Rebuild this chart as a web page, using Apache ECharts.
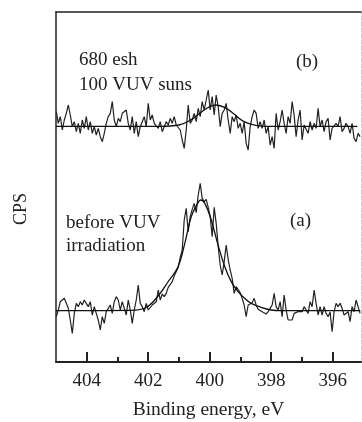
<!DOCTYPE html>
<html>
<head>
<meta charset="utf-8">
<script src="https://cdn.jsdelivr.net/npm/echarts@6/dist/echarts.min.js"></script>
<style>
  html, body { margin: 0; padding: 0; background: #fff; }
  #chart { width: 362px; height: 422px; }
</style>
</head>
<body>
<div id="chart"></div>
<script>
// spectra sampled every 0.065 eV starting at 404.99 eV (descending)
var E_START = 404.99;
var E_STEP = 0.065;

// (b) after 680 esh / 100 VUV suns
var spectrumB = [
  751,716,736,696,726,746,771,741,706,721, 691,716,686,726,701,736,696,721,686,706,
  681,701,676,661,686,716,736,746,781,726, 706,731,721,746,741,756,716,696,736,686,
  721,676,706,721,736,706,776,726,741,716, 711,701,
  721,691,706,721,711,731,716,736,711,716, 696,666,641,696,771,716,726,746,721,761,
  736,781,756,786,816,756,796,741,801,766, 706,746,756,776,726,686,736,721,741,701,
  716,686,721,656,636,706,736,756,746,701, 721,
  701,726,686,706,651,676,641,746,696,721, 756,716,686,736,716,781,741,676,726,756,
  666,711,716,686,721,696,716,701,761,706, 726,691,721,731,666,701,696,716,706,736,
  691,701,716,706,686,716,671,661,686,676
];

// (a) before VUV irradiation
var spectrumA = [
  136,156,181,186,191,176,161,126,86,146, 176,166,181,171,186,176,166,181,141,166,
  146,126,96,136,116,151,161,171,146,181, 196,186,156,181,176,141,186,156,116,156,
  186,231,176,166,151,176,156,161,171,166, 181,216,
  186,204,196,206,224,218,241,258,254,284, 314,336,426,461,391,436,458,476,448,501,
  536,491,481,488,464,436,376,464,416,346, 291,261,301,351,308,276,251,206,226,231,
  208,191,171,136,171,166,178,191,171,158, 164,
  151,148,144,151,161,171,206,166,156,181, 136,201,156,126,131,126,146,146,151,156,
  151,166,161,146,181,166,216,176,141,166, 141,166,146,136,150,91,151,176,166,176,
  161,141,141,151,121,166,151,186,191,146
];

// fitted curves (energy, CPS)
var fitB = [
  [405,707],[401.6,707],[401.0,711],[400.6,727],[400.3,748],[400.0,766],[399.8,771],
  [399.5,763],[399.2,743],[398.9,722],[398.5,710],[398.0,707],[395.2,707]
];
var fitA = [
  [405,154],[402.6,155],[402.1,162],[401.68,198],[401.36,240],[401.03,286],[400.81,356],
  [400.6,436],[400.38,478],[400.3,486],[400.16,476],[399.95,426],[399.73,351],[399.51,286],
  [399.3,241],[399.08,211],[398.86,191],[398.65,176],[398.33,164],[398.0,156],[397.7,154],[395.1,154]
];

var majorTicks = [396, 398, 400, 402, 404];
var minorTicks = [397, 399, 401, 403];

function toPairs(vals) {
  return vals.map(function (v, i) {
    return [+(E_START - i * E_STEP).toFixed(3), v];
  });
}

var FONT = '"Liberation Serif", "DejaVu Serif", serif';
var X_MIN = 395.08, X_MAX = 405;

var chart = echarts.init(document.getElementById('chart'));
var option = {
  animation: false,
  grid: { left: 56, top: 12, right: 1, bottom: 60, containLabel: false, outerBoundsMode: 'none' },
  xAxis: [{
    type: 'value', inverse: true, min: X_MIN, max: X_MAX,
    position: 'bottom',
    name: 'Binding energy, eV',
    nameLocation: 'middle',
    nameGap: 38,
    nameTextStyle: { fontFamily: FONT, fontSize: 19.5, color: '#222' },
    axisLine: { lineStyle: { color: '#222', width: 2 } },
    axisTick: { inside: true, length: 10, customValues: majorTicks, lineStyle: { color: '#222', width: 2 } },
    axisLabel: { customValues: majorTicks, margin: 10, fontFamily: FONT, fontSize: 19, color: '#222' },
    splitLine: { show: false }
  }, {
    type: 'value', inverse: true, min: X_MIN, max: X_MAX,
    position: 'bottom',
    axisLine: { show: false },
    axisTick: { inside: true, length: 5, customValues: minorTicks, lineStyle: { color: '#222', width: 2 } },
    axisLabel: { show: false },
    splitLine: { show: false }
  }, {
    type: 'value', inverse: true, min: X_MIN, max: X_MAX,
    position: 'top',
    axisLine: { lineStyle: { color: '#222', width: 1.5 } },
    axisTick: { show: false },
    axisLabel: { show: false },
    splitLine: { show: false }
  }],
  yAxis: [{
    type: 'value', min: 0, max: 1050,
    position: 'left',
    axisLine: { show: true, lineStyle: { color: '#222', width: 1.5 } },
    axisTick: { show: false },
    axisLabel: { show: false },
    splitLine: { show: false }
  }, {
    type: 'value', min: 0, max: 1050,
    position: 'right',
    axisLine: { show: true, lineStyle: { color: '#ccc', width: 1, type: 'dashed' } },
    axisTick: { show: false },
    axisLabel: { show: false },
    splitLine: { show: false }
  }],
  series: [
    { type: 'line', data: toPairs(spectrumB), showSymbol: false, lineStyle: { color: '#222', width: 1.2 } },
    { type: 'line', data: fitB, smooth: 0.4, showSymbol: false, lineStyle: { color: '#111', width: 1.3 } },
    { type: 'line', data: toPairs(spectrumA), showSymbol: false, lineStyle: { color: '#222', width: 1.2 } },
    { type: 'line', data: fitA, smooth: 0.4, showSymbol: false, lineStyle: { color: '#111', width: 1.3 } }
  ],
  graphic: [
    { type: 'text', left: 79, top: 51, style: { text: '680 esh', font: '19px ' + FONT, fill: '#222' } },
    { type: 'text', left: 79, top: 76, style: { text: '100 VUV suns', font: '19px ' + FONT, fill: '#222' } },
    { type: 'text', left: 296, top: 53, style: { text: '(b)', font: '19px ' + FONT, fill: '#222' } },
    { type: 'text', left: 66, top: 214, style: { text: 'before VUV', font: '19px ' + FONT, fill: '#222' } },
    { type: 'text', left: 66, top: 237, style: { text: 'irradiation', font: '19px ' + FONT, fill: '#222' } },
    { type: 'text', left: 290, top: 212, style: { text: '(a)', font: '19px ' + FONT, fill: '#222' } },
    { type: 'text', x: 12, y: 225, rotation: Math.PI / 2, style: { text: 'CPS', font: '18px ' + FONT, fill: '#222' } }
  ]
};
chart.setOption(option);
window.onresize = chart.resize;
</script>
</body>
</html>
